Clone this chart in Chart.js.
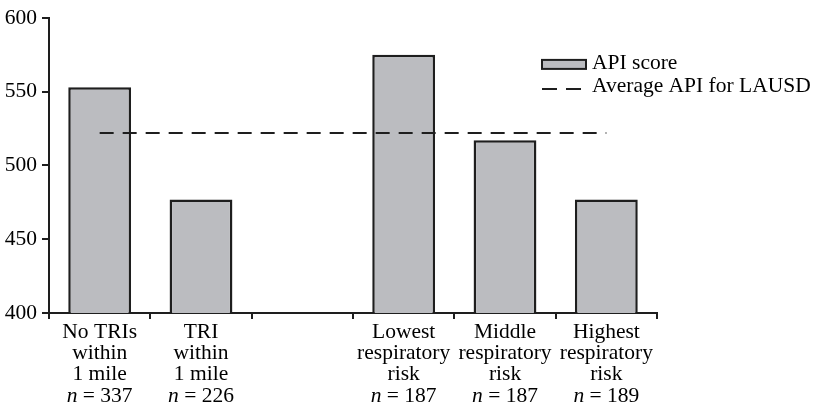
<!DOCTYPE html>
<html>
<head>
<meta charset="utf-8">
<script src="https://cdn.jsdelivr.net/npm/chart.js@4"></script>
<style>
html,body{margin:0;padding:0;background:#fff;}
#wrap{width:818px;height:406px;}
</style>
</head>
<body>
<div id="wrap"><canvas id="c" width="818" height="406"></canvas></div>
<script>
const categories = [
  ["No TRIs","within","1 mile"],
  ["TRI","within","1 mile"],
  ["","",""],
  ["Lowest","respiratory","risk"],
  ["Middle","respiratory","risk"],
  ["Highest","respiratory","risk"]
];
const sampleSizes = ["337","226","","187","187","189"];
const apiScores = [553, 477, null, 575, 517, 477];
const lausdAverage = [522, 522, 522, 522, 522, 522];
const yTicks = [400, 450, 500, 550, 600];
const seriesNames = ["API score", "Average API for LAUSD"];

const FONT = "'Liberation Serif', 'Times New Roman', serif";
const FS = 21.5;
const BAR_FILL = "#bbbcc0";
const DARK = "#1e1e1e";

const nLabelPlugin = {
  id: 'nLabels',
  afterDraw(chart) {
    const ctx = chart.ctx;
    const xs = chart.scales.x;
    ctx.save();
    ctx.fillStyle = '#000';
    ctx.textBaseline = 'middle';
    const y = xs.top + 83;
    sampleSizes.forEach((n, i) => {
      if (!n) return;
      const cx = xs.getPixelForValue(i);
      ctx.font = "italic " + FS + "px " + FONT;
      const w1 = ctx.measureText("n").width;
      ctx.font = FS + "px " + FONT;
      const rest = " = " + n;
      const w2 = ctx.measureText(rest).width;
      const x0 = cx - (w1 + w2) / 2;
      ctx.textAlign = 'left';
      ctx.font = "italic " + FS + "px " + FONT;
      ctx.fillText("n", x0, y);
      ctx.font = FS + "px " + FONT;
      ctx.fillText(rest, x0 + w1, y);
    });
    // legend
    const lx = 542, ly1 = chart.chartArea.top + 45, ly2 = ly1 + 23;
    ctx.fillStyle = BAR_FILL;
    ctx.strokeStyle = DARK;
    ctx.lineWidth = 2;
    ctx.fillRect(lx, ly1 - 3, 44, 9);
    ctx.strokeRect(lx, ly1 - 3, 44, 9);
    ctx.beginPath();
    ctx.setLineDash([15, 9]);
    ctx.moveTo(lx, ly2 + 3);
    ctx.lineTo(lx + 40, ly2 + 3);
    ctx.stroke();
    ctx.setLineDash([]);
    ctx.fillStyle = '#000';
    ctx.font = FS + "px " + FONT;
    ctx.textAlign = 'left';
    ctx.fillText(seriesNames[0], 592, ly1);
    ctx.fillText(seriesNames[1], 592, ly2);
    ctx.restore();
  }
};

new Chart(document.getElementById('c'), {
  data: {
    labels: categories,
    datasets: [
      {
        type: 'line',
        label: seriesNames[1],
        data: lausdAverage,
        borderColor: DARK,
        borderWidth: 2,
        borderDash: [14, 9],
        pointRadius: 0,
        fill: false,
        order: 0
      },
      {
        type: 'bar',
        label: seriesNames[0],
        data: apiScores,
        backgroundColor: BAR_FILL,
        borderColor: DARK,
        borderWidth: 2.5,
        borderSkipped: 'bottom',
        categoryPercentage: 1,
        barPercentage: 0.62,
        order: 1
      }
    ]
  },
  plugins: [nLabelPlugin],
  options: {
    responsive: false,
    animation: false,
    devicePixelRatio: 1,
    layout: { padding: { top: 17, right: 161, left: 0, bottom: 0 } },
    plugins: { legend: { display: false }, tooltip: { enabled: false } },
    scales: {
      x: {
        offset: true,
        grid: { offset: true, drawOnChartArea: false, drawTicks: true, tickLength: 6, color: DARK, lineWidth: 2 },
        border: { display: true, color: DARK, width: 2 },
        ticks: {
          color: '#000',
          font: { family: FONT, size: FS, lineHeight: '21px' },
          padding: 3,
          maxRotation: 0,
          autoSkip: false
        },
        afterFit(s) { s.height = 93; }
      },
      y: {
        min: 400,
        max: 600,
        afterBuildTicks(s) { s.ticks = yTicks.map(v => ({ value: v })); },
        grid: { drawOnChartArea: false, drawTicks: true, tickLength: 7, color: DARK, lineWidth: 2 },
        border: { display: true, color: DARK, width: 2 },
        ticks: {
          color: '#000',
          font: { family: FONT, size: FS },
          padding: 5
        },
        afterFit(s) { s.width = 49; }
      }
    }
  }
});
</script>
</body>
</html>
